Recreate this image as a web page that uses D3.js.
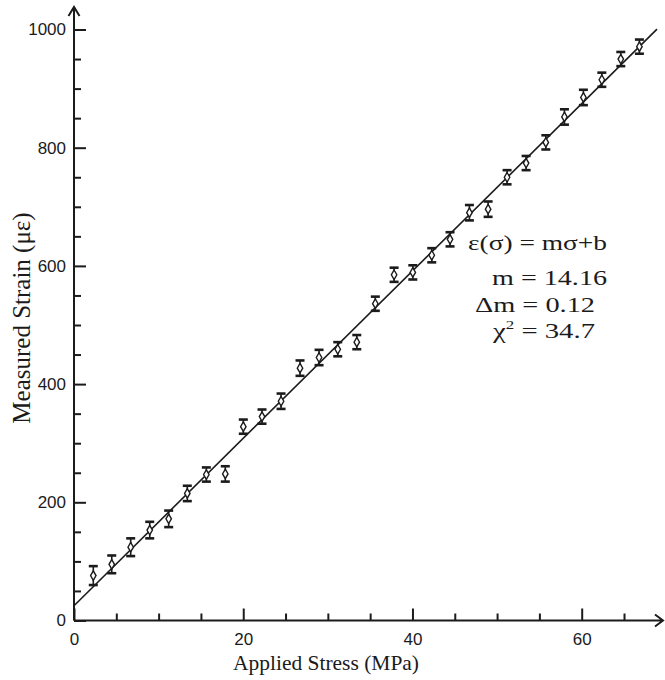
<!DOCTYPE html>
<html>
<head>
<meta charset="utf-8">
<script src="https://cdn.jsdelivr.net/npm/d3@7"></script>
<style>
  body { margin: 0; background: #fff; }
  svg { display: block; }
</style>
</head>
<body>
<svg width="665" height="680"></svg>
<script>
// measured points
const stress = [2.28, 4.46, 6.70, 8.95, 11.19, 13.39, 15.64, 17.88, 20.01, 22.22,
  24.47, 26.71, 28.96, 31.17, 33.42, 35.61, 37.83, 40.04, 42.28, 44.44,
  46.73, 48.94, 51.18, 53.43, 55.76, 57.96, 60.20, 62.38, 64.62, 66.82];
const strain = [76, 95, 124, 153, 172, 215, 247, 248, 328, 345,
  371, 427, 445, 459, 471, 536, 585, 589, 618, 645,
  690, 696, 750, 774, 809, 852, 885, 915, 950, 971];
const strainErr = [16, 15, 15, 14, 14, 13, 12, 13, 12, 12,
  13, 13, 13, 12, 12, 12, 12, 12, 12, 12,
  13, 13, 12, 12, 12, 13, 13, 12, 12, 12];

// fit result
const fitM = 14.16;
const fitB = 25;
const fitRange = [0, 68.9];

const xMajor = [0, 20, 40, 60];
const xMinor = [5, 10, 15, 25, 30, 35, 45, 50, 55, 65];
const yMajor = [0, 200, 400, 600, 800, 1000];
const yMinor = [50, 100, 150, 250, 300, 350, 450, 500, 550, 650, 700, 750, 850, 900, 950];

const ink = '#1b1b1b';
const svg = d3.select('svg');

const x = d3.scaleLinear().domain([0, 60]).range([74, 581.7]);
const y = d3.scaleLinear().domain([0, 1000]).range([620.5, 29.5]);
const x0 = x(0), y0 = y(0);

// minor ticks
svg.append('g')
  .attr('transform', `translate(0,${y0})`)
  .call(d3.axisBottom(x).tickValues(xMinor).tickSize(-7).tickFormat(''))
  .call(g => g.select('.domain').remove());
svg.append('g')
  .attr('transform', `translate(${x0},0)`)
  .call(d3.axisLeft(y).tickValues(yMinor).tickSize(-7).tickFormat(''))
  .call(g => g.select('.domain').remove());

// major ticks with labels
const xAxis = svg.append('g')
  .attr('transform', `translate(0,${y0})`)
  .call(d3.axisBottom(x).tickValues(xMajor).tickSize(-12).tickPadding(12.5).tickFormat(d3.format('d')))
  .call(g => g.select('.domain').remove());
const yAxis = svg.append('g')
  .attr('transform', `translate(${x0},0)`)
  .call(d3.axisLeft(y).tickValues(yMajor).tickSize(-12).tickPadding(8).tickFormat(d3.format('d')))
  .call(g => g.select('.domain').remove());

svg.selectAll('.tick line').attr('stroke', ink).attr('stroke-width', 2);
[xAxis, yAxis].forEach(a => a.selectAll('text')
  .attr('fill', ink)
  .style('font-family', '"Liberation Sans", Arial, sans-serif')
  .style('font-size', '17px'));

// axis lines with open arrow heads
svg.append('path')
  .attr('d', `M${x0},${y0}H663M655,614.5L663,${y0}L655,626.5`)
  .attr('fill', 'none').attr('stroke', ink).attr('stroke-width', 2);
svg.append('path')
  .attr('d', `M${x0},${y0}V7M68.5,16L${x0},7L79.5,16`)
  .attr('fill', 'none').attr('stroke', ink).attr('stroke-width', 2);

// fit line
svg.append('line')
  .attr('x1', x(fitRange[0])).attr('y1', y(fitM * fitRange[0] + fitB))
  .attr('x2', x(fitRange[1])).attr('y2', y(fitM * fitRange[1] + fitB))
  .attr('stroke', ink).attr('stroke-width', 1.6);

// error bars and markers
const pts = stress.map((s, i) => ({ s, e: strain[i], err: strainErr[i] }));
const bars = svg.append('g').selectAll('g').data(pts).enter().append('g');
bars.append('line')
  .attr('x1', d => x(d.s)).attr('x2', d => x(d.s))
  .attr('y1', d => y(d.e - d.err)).attr('y2', d => y(d.e + d.err))
  .attr('stroke', ink).attr('stroke-width', 1.6);
bars.selectAll('.cap').data(d => [[d.s, d.e - d.err], [d.s, d.e + d.err]]).enter()
  .append('line')
  .attr('x1', d => x(d[0]) - 4.5).attr('x2', d => x(d[0]) + 4.5)
  .attr('y1', d => y(d[1])).attr('y2', d => y(d[1]))
  .attr('stroke', ink).attr('stroke-width', 2.6);
bars.append('path')
  .attr('d', d3.symbol(d3.symbolDiamond, 26))
  .attr('transform', d => `translate(${x(d.s)},${y(d.e)})`)
  .attr('fill', '#fff').attr('stroke', ink).attr('stroke-width', 1.4);

// axis titles
const serif = '"Liberation Serif", "Times New Roman", serif';
svg.append('text')
  .attr('x', 326).attr('y', 670)
  .attr('text-anchor', 'middle')
  .attr('textLength', 186).attr('lengthAdjust', 'spacingAndGlyphs')
  .style('font-family', serif).style('font-size', '21px').attr('fill', ink)
  .text('Applied Stress (MPa)');
svg.append('text')
  .attr('transform', 'translate(30,318) rotate(-90)')
  .attr('text-anchor', 'middle')
  .style('font-family', serif).style('font-size', '25px').attr('fill', ink)
  .text('Measured Strain (με)');

// fit annotation
const notes = [
  { x: 468, y: 250, w: 139, parts: [['ε(σ) = mσ+b']] },
  { x: 492, y: 285, w: 115, parts: [['m = 14.16']] },
  { x: 475, y: 312, w: 120, parts: [['Δm = 0.12']] },
  { x: 493, y: 338, w: 102, parts: [['χ'], ['2', 'sup'], [' = 34.7']] }
];
notes.forEach(n => {
  const t = svg.append('text')
    .attr('x', n.x).attr('y', n.y)
    .attr('textLength', n.w).attr('lengthAdjust', 'spacingAndGlyphs')
    .style('font-family', serif).style('font-size', '22px').attr('fill', ink);
  n.parts.forEach(p => {
    const ts = t.append('tspan').text(p[0]);
    if (p[1] === 'sup') ts.attr('dy', -9).style('font-size', '13px');
    else if (t.selectAll('tspan').size() > 1) ts.attr('dy', 9);
  });
});
</script>
</body>
</html>
